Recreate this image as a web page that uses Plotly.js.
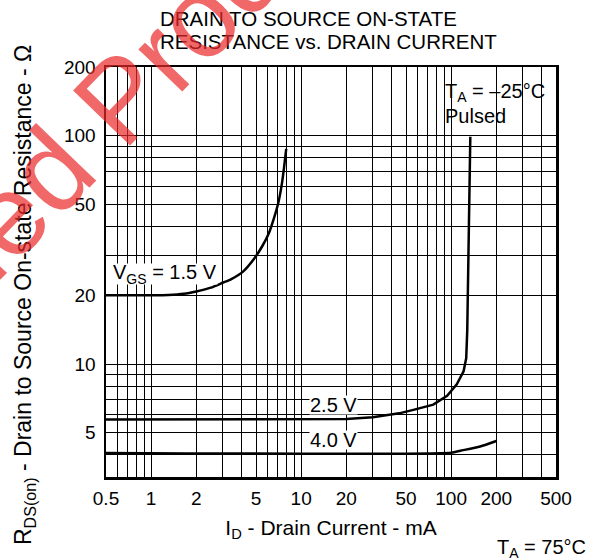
<!DOCTYPE html>
<html>
<head>
<meta charset="utf-8">
<script src="https://cdn.plot.ly/plotly-3.0.1.min.js"></script>
<style>html,body{margin:0;padding:0;background:#fff;}#chart{width:594px;height:560px;}</style>
</head>
<body>
<div id="chart"></div>
<script>
// ---- data ----
const xTickVals = [0.5, 1, 2, 5, 10, 20, 50, 100, 200, 500];
const xTickText = ['0.5', '1', '2', '5', '10', '20', '50', '100', '200', '500'];
const xMinorVals = [0.6, 0.7, 0.8, 0.9, 3, 4, 6, 7, 8, 9, 30, 40, 60, 70, 80, 90, 300, 400];
const yTickVals = [5, 10, 20, 50, 100, 200];
const yTickText = ['5', '10', '20', '50', '100', '200'];
const yMinorVals = [4, 6, 7, 8, 9, 30, 40, 60, 70, 80, 90];

// VGS = 1.5 V
const id15 = [0.5, 0.8, 1.0, 1.3, 1.65, 2.0, 2.5, 3.0, 3.4, 4.1, 4.8, 5.5, 6.1, 6.55, 7.05, 7.45, 7.7, 7.95];
const r15  = [20, 20, 20, 20.05, 20.3, 20.8, 21.6, 22.7, 23.5, 25.4, 28.6, 32.8, 37.5, 43, 51, 62, 73, 87.5];
// VGS = 2.5 V
const id25 = [0.5, 10, 20, 30, 34, 45, 56, 76, 94, 109, 121, 126, 128, 129, 130, 131.5, 133, 134.2];
const r25  = [5.72, 5.72, 5.74, 5.85, 5.92, 6.08, 6.3, 6.64, 7.26, 8.15, 9.3, 10.6, 14, 19.8, 27.8, 39, 64.8, 99];
// VGS = 4.0 V
const id40 = [0.5, 100, 115, 156, 200];
const r40  = [4.08, 4.09, 4.17, 4.35, 4.6];

const xRange = [Math.log10(0.5) - 1e-6, Math.log10(500) + 1e-6];
const yRange = [Math.log10(3.2), Math.log10(200) + 1e-6];

const FONT = 'Liberation Sans, Arial, Helvetica, sans-serif';
const lineStyle = {color: '#000', width: 2.5};

const traces = [
  {x: id15, y: r15, mode: 'lines', line: Object.assign({shape: 'spline', smoothing: 0.6}, lineStyle), name: '1.5 V', hoverinfo: 'skip'},
  {x: id25, y: r25, mode: 'lines', line: lineStyle, name: '2.5 V', hoverinfo: 'skip'},
  {x: id40, y: r40, mode: 'lines', line: Object.assign({shape: 'spline', smoothing: 0.6}, lineStyle), name: '4.0 V', hoverinfo: 'skip'}
];

// plot area: left 106, top 67, width 450, height 410 (pixels)
function px(v) { return (Math.log10(v) - xRange[0]) / (xRange[1] - xRange[0]); }
function py(v) { return (Math.log10(v) - yRange[0]) / (yRange[1] - yRange[0]); }
function pxp(p) { return (p - 106) / 450; }
function pyp(p) { return 1 - (p - 67) / 410; }

const labelFont = {family: FONT, size: 20, color: '#000'};

const layout = {
  width: 594, height: 560,
  margin: {l: 106, r: 38, t: 67, b: 83},
  paper_bgcolor: '#fff', plot_bgcolor: '#fff',
  font: {family: FONT, color: '#000', size: 19},
  showlegend: false,
  xaxis: {
    type: 'log', range: xRange,
    tickmode: 'array', tickvals: xTickVals, ticktext: xTickText,
    showgrid: true, gridcolor: '#000', gridwidth: 1,
    minor: {tickmode: 'array', tickvals: xMinorVals, showgrid: true, gridcolor: '#000', gridwidth: 1, ticks: ''},
    showline: true, linecolor: '#000', linewidth: 2.5, mirror: true,
    ticks: '', zeroline: false, ticklabelstandoff: 3,
    tickfont: {family: FONT, size: 19, color: '#000'},
    title: {text: 'I<sub>D</sub> - Drain Current - mA', font: {family: FONT, size: 21, color: '#000'}, standoff: 12}
  },
  yaxis: {
    type: 'log', range: yRange,
    tickmode: 'array', tickvals: yTickVals, ticktext: yTickText,
    showgrid: true, gridcolor: '#000', gridwidth: 1,
    minor: {tickmode: 'array', tickvals: yMinorVals, showgrid: true, gridcolor: '#000', gridwidth: 1, ticks: ''},
    showline: true, linecolor: '#000', linewidth: 2.5, mirror: true,
    ticks: '', zeroline: false, ticklabelstandoff: 4,
    tickfont: {family: FONT, size: 19, color: '#000'}
  },
  shapes: [
    {type: 'rect', xref: 'paper', yref: 'paper', x0: px(80), x1: 1, y0: py(100), y1: 1,
     fillcolor: '#fff', line: {width: 0}, layer: 'between'}
  ],
  annotations: [
    // chart title (two lines)
    {xref: 'paper', yref: 'paper', x: pxp(158), y: pyp(19), xanchor: 'left', yanchor: 'middle',
     text: 'DRAIN TO SOURCE ON-STATE', showarrow: false, font: {family: FONT, size: 20.5, color: '#000'}},
    {xref: 'paper', yref: 'paper', x: pxp(158), y: pyp(41.5), xanchor: 'left', yanchor: 'middle',
     text: 'RESISTANCE vs. DRAIN CURRENT', showarrow: false, font: {family: FONT, size: 20.5, color: '#000'}},
    // y axis title
    {xref: 'paper', yref: 'paper', x: pxp(24), y: pyp(295), xanchor: 'center', yanchor: 'middle', textangle: -90,
     text: 'R<sub>DS(on)</sub> - Drain to Source On-state Resistance - Ω', showarrow: false,
     font: {family: FONT, size: 23, color: '#000'}},
    // curve labels
    {xref: 'x', yref: 'y', x: Math.log10(1.233), y: Math.log10(24.8), text: 'V<sub>GS</sub> = 1.5 V',
     showarrow: false, bgcolor: '#fff', borderpad: 0, height: 20, font: labelFont},
    {xref: 'x', yref: 'y', x: Math.log10(16.4), y: Math.log10(6.61), text: '2.5 V',
     showarrow: false, bgcolor: '#fff', borderpad: 0, height: 18, font: labelFont},
    {xref: 'x', yref: 'y', x: Math.log10(16.4), y: Math.log10(4.65), text: '4.0 V',
     showarrow: false, bgcolor: '#fff', borderpad: 0, height: 18, font: labelFont},
    // conditions
    {xref: 'paper', yref: 'paper', x: pxp(443), y: pyp(92), xanchor: 'left', yanchor: 'middle',
     text: 'T<sub>A</sub> = –25°C', showarrow: false, font: labelFont},
    {xref: 'paper', yref: 'paper', x: pxp(443), y: pyp(115.5), xanchor: 'left', yanchor: 'middle',
     text: 'Pulsed', showarrow: false, font: labelFont},
    {xref: 'paper', yref: 'paper', x: pxp(495), y: pyp(548), xanchor: 'left', yanchor: 'middle',
     text: 'T<sub>A</sub> = 75°C', showarrow: false, font: labelFont},
    // watermark
    {xref: 'paper', yref: 'paper', x: pxp(-10), y: pyp(233), xanchor: 'center', yanchor: 'middle',
     text: 'Discontinued Product', textangle: -46, showarrow: false,
     font: {family: FONT, size: 115, color: 'rgba(235,40,40,0.7)'}}
  ]
};

Plotly.newPlot('chart', traces, layout, {displayModeBar: false, staticPlot: true});
</script>
</body>
</html>
